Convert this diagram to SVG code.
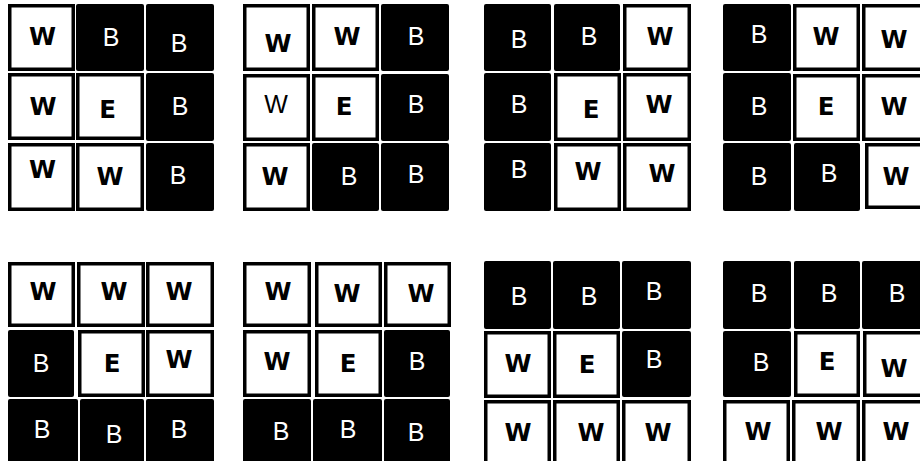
<svg xmlns="http://www.w3.org/2000/svg" width="920" height="461" viewBox="0 0 920 461">
<style>
.w{fill:#fff;stroke:#000;stroke-width:3.5}
.b{fill:#000}
.tw{font-family:"DejaVu Sans",sans-serif;font-weight:bold;font-size:24.5px;fill:#000;text-anchor:middle}
.te{font-family:"DejaVu Sans",sans-serif;font-weight:bold;font-size:24.5px;fill:#000;text-anchor:middle}
.tb{font-family:"Liberation Sans",sans-serif;font-size:25px;fill:#fff;text-anchor:middle}
.twr{font-family:"Liberation Sans",sans-serif;font-size:25px;fill:#000;text-anchor:middle}
</style>
<rect width="920" height="461" fill="#fff"/>
<!-- Grid 1 -->
<g id="grid1">
<g id="g1-r1c1"><rect class="w" x="9.75" y="5.75" width="63.5" height="63.5"/><text class="tw" x="42.5" y="45">W</text></g>
<g id="g1-r1c2"><rect class="b" x="76" y="4" width="68" height="67" rx="2"/><text class="tb" x="111" y="46">B</text></g>
<g id="g1-r1c3"><rect class="b" x="146" y="4" width="68" height="67" rx="2"/><text class="tb" x="179" y="52">B</text></g>
<g id="g1-r2c1"><rect class="w" x="9.75" y="74.75" width="63.5" height="63.5"/><text class="tw" x="43" y="115">W</text></g>
<g id="g1-r2c2"><rect class="w" x="77.75" y="74.75" width="64.5" height="63.5"/><text class="te" x="107.5" y="118">E</text></g>
<g id="g1-r2c3"><rect class="b" x="146" y="73" width="68" height="68" rx="2"/><text class="tb" x="180" y="115">B</text></g>
<g id="g1-r3c1"><rect class="w" x="9.75" y="144.75" width="63.5" height="64.5"/><text class="tw" x="42.5" y="178">W</text></g>
<g id="g1-r3c2"><rect class="w" x="77.75" y="144.75" width="64.5" height="64.5"/><text class="tw" x="110" y="185">W</text></g>
<g id="g1-r3c3"><rect class="b" x="146" y="143" width="68" height="68" rx="2"/><text class="tb" x="178" y="184">B</text></g>
</g>
<!-- Grid 2 -->
<g id="grid2">
<g id="g2-r1c1"><rect class="w" x="244.75" y="5.75" width="63.5" height="63.5"/><text class="tw" x="278" y="52">W</text></g>
<g id="g2-r1c2"><rect class="w" x="313.75" y="5.75" width="63.5" height="63.5"/><text class="tw" x="347" y="45">W</text></g>
<g id="g2-r1c3"><rect class="b" x="381" y="4" width="68" height="67" rx="2"/><text class="tb" x="416" y="45">B</text></g>
<g id="g2-r2c1"><rect class="w" x="244.75" y="75.75" width="63.5" height="63.5"/><text class="twr" x="276" y="113">W</text></g>
<g id="g2-r2c2"><rect class="w" x="313.75" y="75.75" width="63.5" height="63.5"/><text class="te" x="344" y="115">E</text></g>
<g id="g2-r2c3"><rect class="b" x="381" y="74" width="68" height="67" rx="2"/><text class="tb" x="416" y="113">B</text></g>
<g id="g2-r3c1"><rect class="w" x="244.75" y="144.75" width="63.5" height="64.5"/><text class="tw" x="275" y="185">W</text></g>
<g id="g2-r3c2"><rect class="b" x="312" y="143" width="67" height="68" rx="2"/><text class="tb" x="349" y="185">B</text></g>
<g id="g2-r3c3"><rect class="b" x="381" y="143" width="68" height="68" rx="2"/><text class="tb" x="416" y="183">B</text></g>
</g>
<!-- Grid 3 -->
<g id="grid3">
<g id="g3-r1c1"><rect class="b" x="484" y="4" width="67" height="67" rx="2"/><text class="tb" x="519" y="48">B</text></g>
<g id="g3-r1c2"><rect class="b" x="554" y="4" width="66" height="67" rx="2"/><text class="tb" x="589" y="45">B</text></g>
<g id="g3-r1c3"><rect class="w" x="624.75" y="5.75" width="64.5" height="63.5"/><text class="tw" x="660" y="45">W</text></g>
<g id="g3-r2c1"><rect class="b" x="484" y="73" width="67" height="68" rx="2"/><text class="tb" x="519" y="113">B</text></g>
<g id="g3-r2c2"><rect class="w" x="555.75" y="74.75" width="63.5" height="64.5"/><text class="te" x="591" y="118">E</text></g>
<g id="g3-r2c3"><rect class="w" x="624.75" y="74.75" width="64.5" height="64.5"/><text class="tw" x="659" y="113">W</text></g>
<g id="g3-r3c1"><rect class="b" x="484" y="143" width="67" height="68" rx="2"/><text class="tb" x="519" y="178">B</text></g>
<g id="g3-r3c2"><rect class="w" x="555.75" y="144.75" width="63.5" height="64.5"/><text class="tw" x="588" y="180">W</text></g>
<g id="g3-r3c3"><rect class="w" x="624.75" y="144.75" width="64.5" height="64.5"/><text class="tw" x="662" y="182">W</text></g>
</g>
<!-- Grid 4 -->
<g id="grid4">
<g id="g4-r1c1"><rect class="b" x="723" y="4" width="68" height="67" rx="2"/><text class="tb" x="759" y="43">B</text></g>
<g id="g4-r1c2"><rect class="w" x="794.75" y="5.75" width="63.5" height="63.5"/><text class="tw" x="826" y="45">W</text></g>
<g id="g4-r1c3"><rect class="w" x="863.75" y="5.75" width="70" height="63.5"/><text class="tw" x="894" y="48">W</text></g>
<g id="g4-r2c1"><rect class="b" x="723" y="73" width="68" height="68" rx="2"/><text class="tb" x="759" y="115">B</text></g>
<g id="g4-r2c2"><rect class="w" x="794.75" y="75.75" width="63.5" height="63.5"/><text class="te" x="826" y="115">E</text></g>
<g id="g4-r2c3"><rect class="w" x="863.75" y="75.75" width="70" height="63.5"/><text class="tw" x="894" y="115">W</text></g>
<g id="g4-r3c1"><rect class="b" x="723" y="143" width="68" height="68" rx="2"/><text class="tb" x="759" y="185">B</text></g>
<g id="g4-r3c2"><rect class="b" x="794" y="143" width="66" height="68" rx="2"/><text class="tb" x="829" y="182">B</text></g>
<g id="g4-r3c3"><rect class="w" x="866.75" y="144.75" width="70" height="62.5"/><text class="tw" x="896" y="185">W</text></g>
</g>
<!-- Grid 5 -->
<g id="grid5">
<g id="g5-r1c1"><rect class="w" x="9.75" y="263.75" width="63.5" height="61.5"/><text class="tw" x="43" y="300">W</text></g>
<g id="g5-r1c2"><rect class="w" x="78.75" y="263.75" width="64.5" height="61.5"/><text class="tw" x="114" y="300">W</text></g>
<g id="g5-r1c3"><rect class="w" x="147.75" y="263.75" width="64.5" height="61.5"/><text class="tw" x="179" y="300">W</text></g>
<g id="g5-r2c1"><rect class="b" x="8" y="330" width="66" height="67" rx="2"/><text class="tb" x="41" y="372">B</text></g>
<g id="g5-r2c2"><rect class="w" x="79.75" y="331.75" width="63.5" height="63.5"/><text class="te" x="112" y="372">E</text></g>
<g id="g5-r2c3"><rect class="w" x="147.75" y="331.75" width="64.5" height="63.5"/><text class="tw" x="179" y="368">W</text></g>
<g id="g5-r3c1"><rect class="b" x="8" y="399" width="70" height="70" rx="2"/><text class="tb" x="42" y="438">B</text></g>
<g id="g5-r3c2"><rect class="b" x="80" y="399" width="64" height="70" rx="2"/><text class="tb" x="114" y="443">B</text></g>
<g id="g5-r3c3"><rect class="b" x="146" y="399" width="68" height="70" rx="2"/><text class="tb" x="179" y="438">B</text></g>
</g>
<!-- Grid 6 -->
<g id="grid6">
<g id="g6-r1c1"><rect class="w" x="244.75" y="263.75" width="64.5" height="61.5"/><text class="tw" x="278" y="300">W</text></g>
<g id="g6-r1c2"><rect class="w" x="316.75" y="263.75" width="63.5" height="61.5"/><text class="tw" x="347" y="302">W</text></g>
<g id="g6-r1c3"><rect class="w" x="385.75" y="263.75" width="63.5" height="61.5"/><text class="tw" x="421" y="302">W</text></g>
<g id="g6-r2c1"><rect class="w" x="244.75" y="331.75" width="64.5" height="63.5"/><text class="tw" x="277" y="370">W</text></g>
<g id="g6-r2c2"><rect class="w" x="316.75" y="331.75" width="63.5" height="63.5"/><text class="te" x="348" y="372">E</text></g>
<g id="g6-r2c3"><rect class="b" x="384" y="330" width="66" height="67" rx="2"/><text class="tb" x="417" y="370">B</text></g>
<g id="g6-r3c1"><rect class="b" x="243" y="399" width="68" height="70" rx="2"/><text class="tb" x="281" y="440">B</text></g>
<g id="g6-r3c2"><rect class="b" x="313" y="399" width="69" height="70" rx="2"/><text class="tb" x="348" y="438">B</text></g>
<g id="g6-r3c3"><rect class="b" x="384" y="399" width="66" height="70" rx="2"/><text class="tb" x="416" y="441">B</text></g>
</g>
<!-- Grid 7 -->
<g id="grid7">
<g id="g7-r1c1"><rect class="b" x="484" y="261" width="67" height="68" rx="2"/><text class="tb" x="519" y="305">B</text></g>
<g id="g7-r1c2"><rect class="b" x="553" y="261" width="67" height="68" rx="2"/><text class="tb" x="589" y="305">B</text></g>
<g id="g7-r1c3"><rect class="b" x="622" y="261" width="69" height="68" rx="2"/><text class="tb" x="654" y="300">B</text></g>
<g id="g7-r2c1"><rect class="w" x="485.75" y="332.75" width="63.5" height="63.5"/><text class="tw" x="518" y="372">W</text></g>
<g id="g7-r2c2"><rect class="w" x="554.75" y="332.75" width="63.5" height="63.5"/><text class="te" x="587" y="373">E</text></g>
<g id="g7-r2c3"><rect class="b" x="622" y="331" width="69" height="66" rx="2"/><text class="tb" x="654" y="368">B</text></g>
<g id="g7-r3c1"><rect class="w" x="485.75" y="401.75" width="63.5" height="70"/><text class="tw" x="518" y="441">W</text></g>
<g id="g7-r3c2"><rect class="w" x="554.75" y="401.75" width="63.5" height="70"/><text class="tw" x="591" y="441">W</text></g>
<g id="g7-r3c3"><rect class="w" x="623.75" y="401.75" width="65.5" height="70"/><text class="tw" x="658" y="441">W</text></g>
</g>
<!-- Grid 8 -->
<g id="grid8">
<g id="g8-r1c1"><rect class="b" x="723" y="261" width="68" height="68" rx="2"/><text class="tb" x="759" y="302">B</text></g>
<g id="g8-r1c2"><rect class="b" x="794" y="261" width="66" height="68" rx="2"/><text class="tb" x="829" y="302">B</text></g>
<g id="g8-r1c3"><rect class="b" x="862" y="261" width="70" height="68" rx="2"/><text class="tb" x="897" y="302">B</text></g>
<g id="g8-r2c1"><rect class="b" x="723" y="331" width="68" height="66" rx="2"/><text class="tb" x="761" y="371">B</text></g>
<g id="g8-r2c2"><rect class="w" x="795.75" y="332.75" width="62.5" height="62.5"/><text class="te" x="827" y="370">E</text></g>
<g id="g8-r2c3"><rect class="w" x="864.75" y="332.75" width="70" height="62.5"/><text class="tw" x="894" y="377">W</text></g>
<g id="g8-r3c1"><rect class="w" x="724.75" y="401.75" width="63.5" height="70"/><text class="tw" x="758" y="440">W</text></g>
<g id="g8-r3c2"><rect class="w" x="793.75" y="401.75" width="64.5" height="70"/><text class="tw" x="829" y="440">W</text></g>
<g id="g8-r3c3"><rect class="w" x="863.75" y="401.75" width="70" height="70"/><text class="tw" x="896" y="440">W</text></g>
</g>
<g id="connectors"/>
</svg>
